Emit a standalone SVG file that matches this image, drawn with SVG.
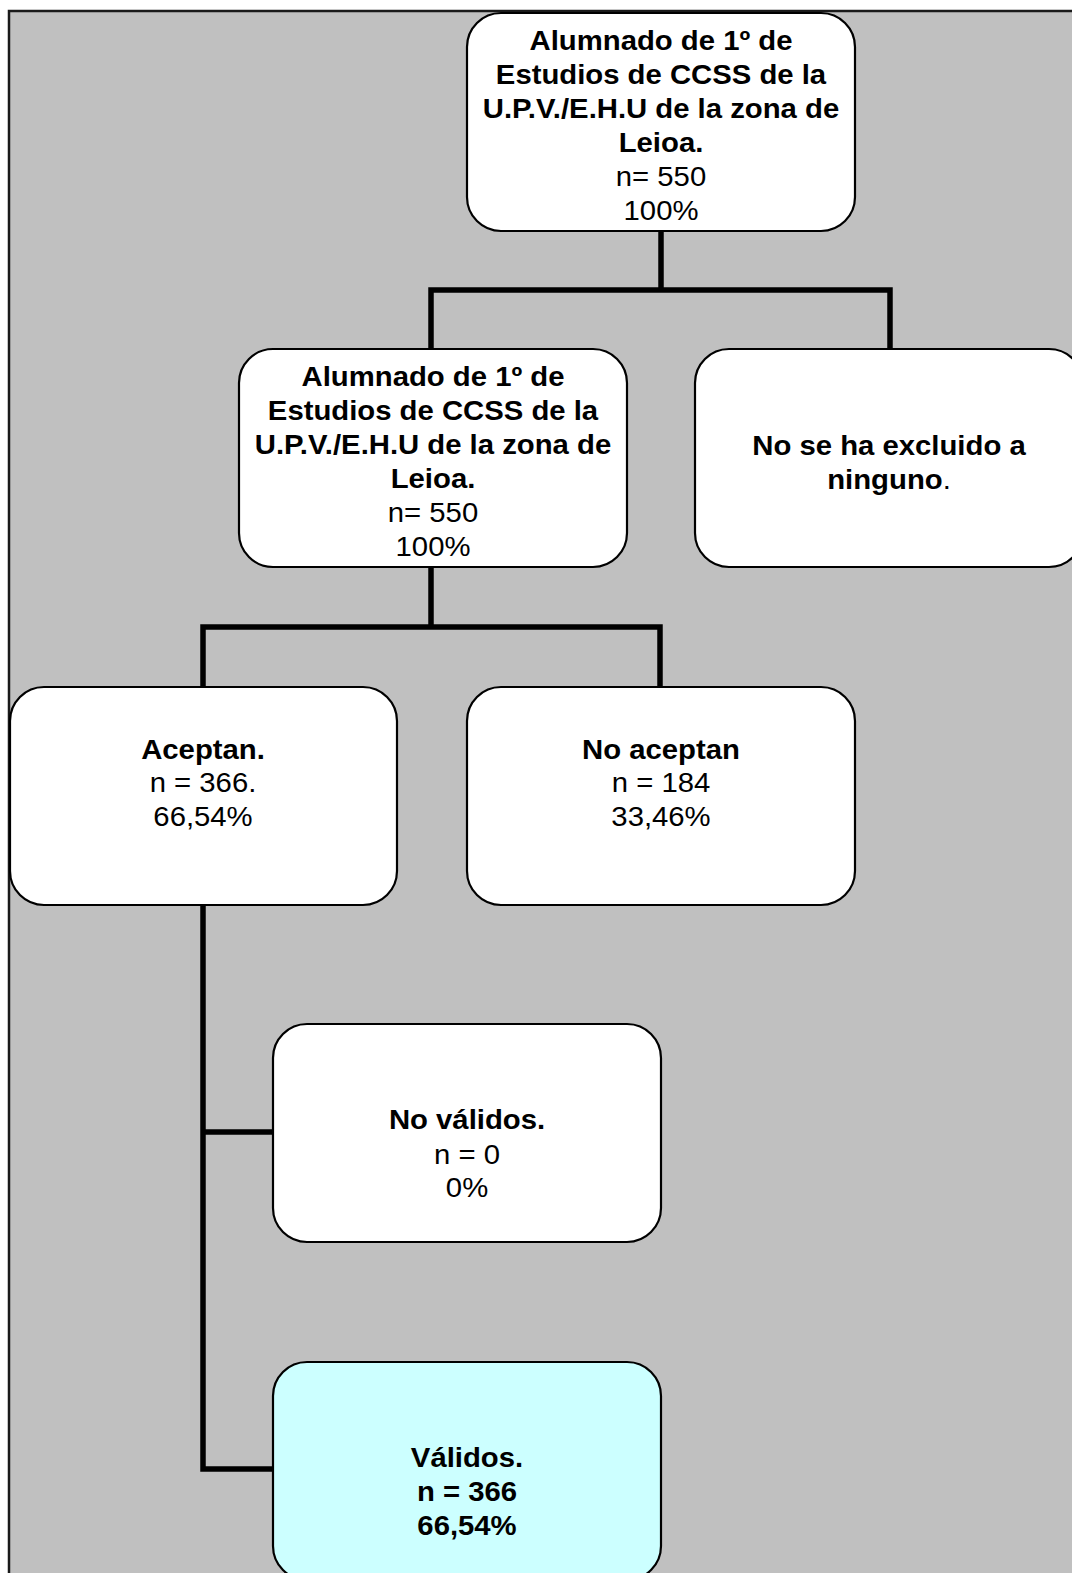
<svg xmlns="http://www.w3.org/2000/svg" width="1072" height="1573" viewBox="0 0 1072 1573">
<style>
.node{fill:#ffffff;stroke:#000;stroke-width:2.2}
.valid{fill:#ccffff}
.conn{fill:none;stroke:#000;stroke-width:5.5;stroke-linejoin:miter}
text{font-family:"Liberation Sans",Arial,sans-serif;font-size:27px;fill:#000;text-anchor:middle}
.b{font-weight:bold}
</style>
<rect x="9" y="11" width="1080" height="1580" fill="#c0c0c0" stroke="#1a1a1a" stroke-width="2.5"/>
<g id="connectors">
<path class="conn" d="M661,231 V290 M431,349 V290 H890 V349"/>
<path class="conn" d="M431,567 V627 M203,687 V627 H660 V687"/>
<path class="conn" d="M203,905 V1469 H273 M203,1132 H273"/>
</g>
<g id="n1">
<rect class="node" x="467" y="13" width="388" height="218" rx="34"/>
<g transform="translate(661,1.5) scale(1.085,1)">
<text class="b" x="0" y="49">Alumnado de 1º de</text>
<text class="b" x="0" y="83">Estudios de CCSS de la</text>
<text class="b" x="0" y="117">U.P.V./E.H.U de la zona de</text>
<text class="b" x="0" y="151">Leioa.</text>
<text x="0" y="185">n= 550</text>
<text x="0" y="219">100%</text>
</g>
</g>
<g id="n2">
<rect class="node" x="239" y="349" width="388" height="218" rx="34"/>
<g transform="translate(433,1.5) scale(1.085,1)">
<text class="b" x="0" y="385">Alumnado de 1º de</text>
<text class="b" x="0" y="419">Estudios de CCSS de la</text>
<text class="b" x="0" y="453">U.P.V./E.H.U de la zona de</text>
<text class="b" x="0" y="487">Leioa.</text>
<text x="0" y="521">n= 550</text>
<text x="0" y="555">100%</text>
</g>
</g>
<g id="n3">
<rect class="node" x="695" y="349" width="388" height="218" rx="34"/>
<g transform="translate(889,0.5) scale(1.085,1)">
<text class="b" x="0" y="455">No se ha excluido a</text>
<text x="0" y="489"><tspan class="b">ninguno</tspan>.</text>
</g>
</g>
<g id="n4">
<rect class="node" x="10" y="687" width="387" height="218" rx="34"/>
<g transform="translate(203,0) scale(1.085,1)">
<text class="b" x="0" y="759">Aceptan.</text>
<text x="0" y="792">n = 366.</text>
<text x="0" y="826">66,54%</text>
</g>
</g>
<g id="n5">
<rect class="node" x="467" y="687" width="388" height="218" rx="34"/>
<g transform="translate(661,0) scale(1.085,1)">
<text class="b" x="0" y="759">No aceptan</text>
<text x="0" y="792">n = 184</text>
<text x="0" y="826">33,46%</text>
</g>
</g>
<g id="n6">
<rect class="node" x="273" y="1024" width="388" height="218" rx="34"/>
<g transform="translate(467,0) scale(1.085,1)">
<text class="b" x="0" y="1129">No válidos.</text>
<text x="0" y="1164">n = 0</text>
<text x="0" y="1197">0%</text>
</g>
</g>
<g id="n7">
<rect class="node valid" x="273" y="1362" width="388" height="218" rx="34"/>
<g transform="translate(467,0) scale(1.085,1)">
<text class="b" x="0" y="1467">Válidos.</text>
<text class="b" x="0" y="1501">n = 366</text>
<text class="b" x="0" y="1535">66,54%</text>
</g>
</g>
</svg>
